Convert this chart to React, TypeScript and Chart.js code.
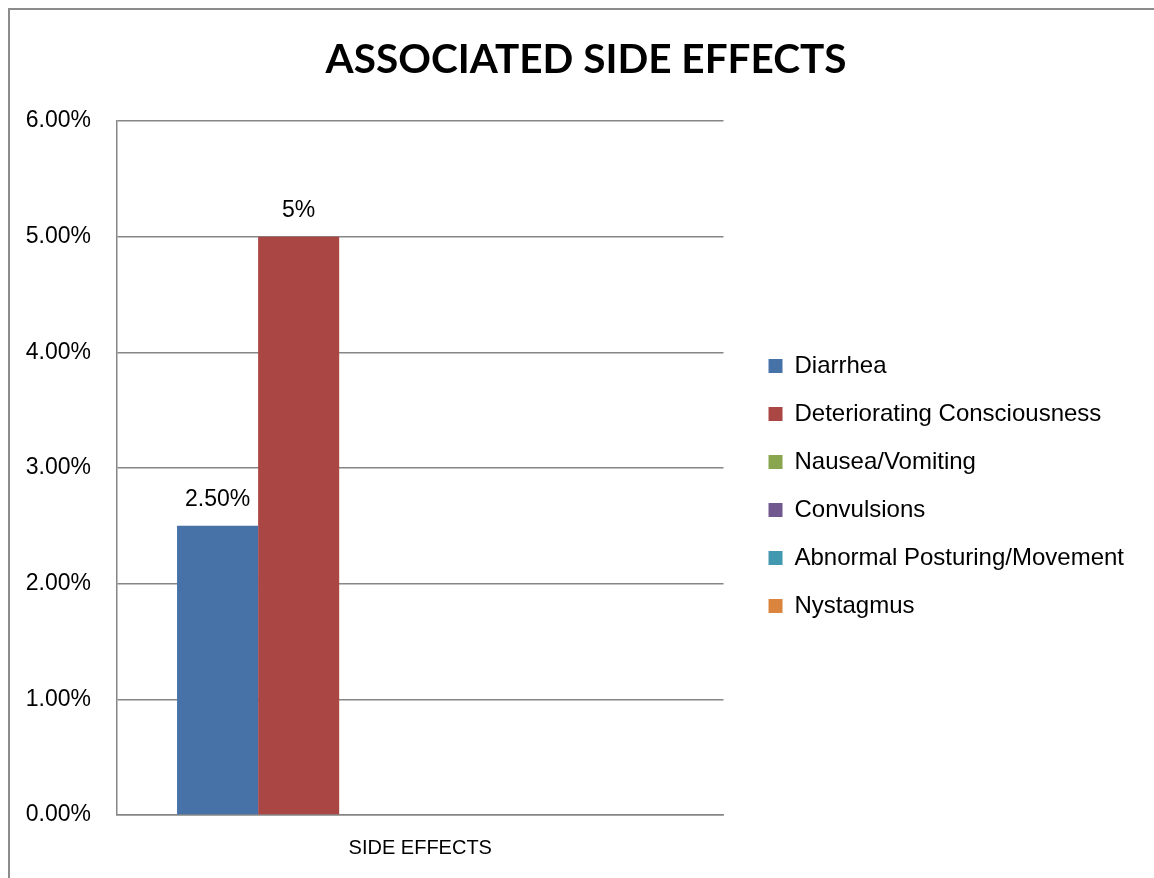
import React, { useEffect, useRef } from 'react';
import { Chart, registerables } from 'chart.js';

Chart.register(...registerables);

// ---- data ----
const chartTitle = 'ASSOCIATED SIDE EFFECTS';
const categories = ['SIDE EFFECTS'];
const seriesNames = [
  'Diarrhea',
  'Deteriorating Consciousness',
  'Nausea/Vomiting',
  'Convulsions',
  'Abnormal Posturing/Movement',
  'Nystagmus',
];
const diarrhea = [0.025];
const deterioratingConsciousness = [0.05];
const nauseaVomiting = [0];
const convulsions = [0];
const abnormalPosturing = [0];
const nystagmus = [0];
const seriesValues = [diarrhea, deterioratingConsciousness, nauseaVomiting, convulsions, abnormalPosturing, nystagmus];
const valueLabels = ['2.50%', '5%', '', '', '', ''];
const seriesColors = ['#4672A8', '#AA4643', '#89A54E', '#71588F', '#4198AF', '#DB843D'];
const yTickLabels = ['0.00%', '1.00%', '2.00%', '3.00%', '4.00%', '5.00%', '6.00%'];

const FONT = "'Liberation Sans', Arial, sans-serif";
const GRID = '#868686';

const valueLabelPlugin = {
  id: 'valueLabelPlugin',
  afterDatasetsDraw(chart: any) {
    const ctx = chart.ctx;
    chart.data.datasets.forEach((_ds: any, i: number) => {
      const text = valueLabels[i];
      if (!text) return;
      const meta = chart.getDatasetMeta(i);
      meta.data.forEach((bar: any) => {
        ctx.save();
        ctx.font = `23px ${FONT}`;
        ctx.fillStyle = '#000';
        ctx.textAlign = 'center';
        ctx.textBaseline = 'middle';
        ctx.fillText(text, bar.x, bar.y - 26);
        ctx.restore();
      });
    });
  },
};

export default function App() {
  const canvasRef = useRef<HTMLCanvasElement | null>(null);

  useEffect(() => {
    if (!canvasRef.current) return;
    const chart = new Chart(canvasRef.current, {
      type: 'bar',
      data: {
        labels: categories,
        datasets: seriesNames.map((name, i) => ({
          label: name,
          data: seriesValues[i],
          backgroundColor: seriesColors[i],
          borderWidth: 0,
          categoryPercentage: 0.802,
          barPercentage: 1.0,
        })),
      },
      options: {
        responsive: false,
        animation: false,
        layout: { padding: { left: 0, top: 0, right: 28, bottom: 0 } },
        plugins: {
          tooltip: { enabled: false },
          title: {
            display: true,
            text: chartTitle,
            color: '#000',
            font: { family: "Lato, 'Liberation Sans', sans-serif", size: 40.5, weight: 'bold' },
            padding: { top: 36, bottom: 36.4 },
          },
          legend: {
            position: 'right',
            fullSize: false,
            align: 'center',
            maxWidth: 700,
            title: { display: true, text: ' ', font: { size: 10 }, padding: { top: 24, bottom: 0 } },
            labels: {
              boxWidth: 14,
              boxHeight: 14,
              padding: 24,
              color: '#000',
              font: { family: FONT, size: 24 },
            },
          },
        },
        scales: {
          x: {
            type: 'category',
            grid: { display: false, drawTicks: false },
            border: { display: true, color: GRID, width: 1.5 },
            ticks: { color: '#000', font: { family: FONT, size: 20 }, padding: 21 },
            afterFit: (s: any) => { s.height = 63; },
          },
          y: {
            type: 'linear',
            position: 'left',
            min: 0,
            max: 0.06,
            grid: { color: GRID, lineWidth: 1.5, drawTicks: false },
            border: { display: true, color: GRID, width: 1.5 },
            ticks: {
              stepSize: 0.01,
              padding: 26,
              color: '#000',
              font: { family: FONT, size: 23 },
              callback: (v: any) => yTickLabels[Math.round(Number(v) / 0.01)],
            },
            afterFit: (s: any) => { s.width = 117; },
          },
          gapBeforeLegend: {
            type: 'linear',
            position: 'right',
            weight: 0,
            grid: { display: false, drawTicks: false },
            border: { display: false },
            ticks: { display: false },
            afterFit: (s: any) => { s.width = 21; },
          },
          gapAfterLegend: {
            type: 'linear',
            position: 'right',
            weight: 2000,
            grid: { display: false, drawTicks: false },
            border: { display: false },
            ticks: { display: false },
            afterFit: (s: any) => { s.width = 38; },
          },
        },
      } as any,
      plugins: [valueLabelPlugin],
    });
    return () => chart.destroy();
  }, []);

  return (
    <div style={{ position: 'absolute', left: 0, top: 0, width: 1154, height: 878, overflow: 'hidden', background: '#fff' }}>
      <div
        style={{
          position: 'absolute',
          left: 8,
          top: 8,
          width: 1146,
          height: 870,
          borderLeft: '2px solid #8c8c8c',
          borderTop: '2px solid #8c8c8c',
          boxSizing: 'border-box',
        }}
      />
      <canvas ref={canvasRef} width={1200} height={878} style={{ position: 'absolute', left: 0, top: 0, width: 1200, height: 878 }} />
    </div>
  );
}
